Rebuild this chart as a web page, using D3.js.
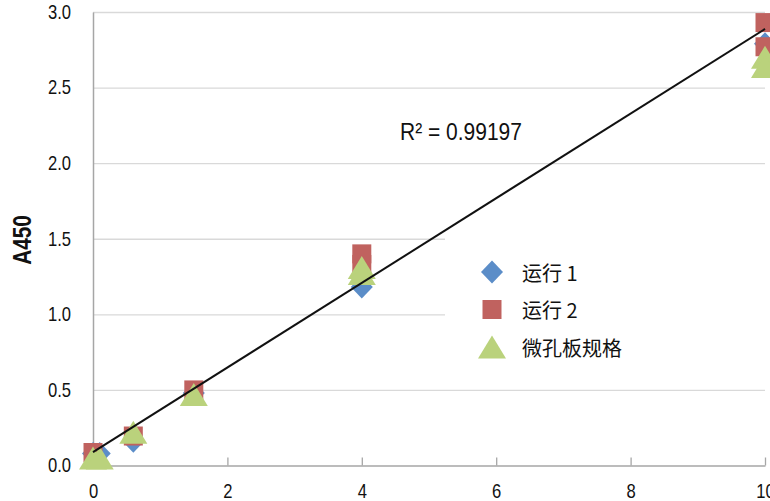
<!DOCTYPE html>
<html>
<head>
<meta charset="utf-8">
<script src="https://cdn.jsdelivr.net/npm/d3@7"></script>
<style>
  html, body { margin: 0; padding: 0; background: #fff; }
  svg { display: block; }
  .lbl { font-family: "Liberation Sans", Arial, sans-serif; fill: #111; }
  .cjk { font-family: "Noto Sans CJK SC", sans-serif; fill: #111; }
</style>
</head>
<body>
<svg id="chart" width="770" height="501"></svg>
<script>
// Absorbance readings (A450) against concentration
const run1 = [[0, 0.08], [0.1, 0.08], [0.6, 0.16], [1.5, 0.48], [4, 1.18], [10, 2.79]];
const run2 = [[0, 0.086], [0.6, 0.195], [1.5, 0.50], [4, 1.40], [4, 1.33], [10, 2.93], [10, 2.77]];
const plateSpec = [[0, 0.05], [0.1, 0.05], [0.6, 0.22], [1.5, 0.47], [4, 1.31], [4, 1.27], [10, 2.70], [10, 2.64]];

const seriesNames = ["运行 1", "运行 2", "微孔板规格"];
const xTicks = [0, 2, 4, 6, 8, 10];
const yTicks = [0, 0.5, 1.0, 1.5, 2.0, 2.5, 3.0];

// Linear trend line and its fit quality
const trendIntercept = 0.088;
const trendSlope = 0.280;
const rSquaredLabel = "R² = 0.99197";

const colors = ["#5b8dc8", "#c0625f", "#bad27c"];

// horizontal squeeze giving a condensed face
const NARROW = 0.83;

const svg = d3.select("#chart");
const x = d3.scaleLinear().domain([0, 10]).range([93, 765]);
const y = d3.scaleLinear().domain([0, 3]).range([465.5, 12]);

// horizontal gridlines
svg.append("g")
  .attr("transform", `translate(${x(0)},0)`)
  .call(d3.axisLeft(y).tickValues(yTicks.slice(1)).tickSize(-(x(10) - x(0))).tickFormat(""))
  .call(g => g.select(".domain").remove())
  .call(g => g.selectAll("line").attr("stroke", "#d9d9d9").attr("stroke-width", 1.3));

// legend background hides gridlines behind it
svg.append("rect").attr("x", 445).attr("y", 235).attr("width", 330).attr("height", 137).attr("fill", "#fff");

// y axis
const yPad = 22;
svg.append("g")
  .attr("transform", `translate(${x(0)},0)`)
  .call(d3.axisLeft(y).tickValues(yTicks).tickSize(0).tickPadding(yPad).tickFormat(d3.format(".1f")))
  .call(g => g.select(".domain").attr("stroke", "#a6a6a6").attr("stroke-width", 1.5))
  .call(g => g.selectAll("text").attr("class", "lbl").attr("font-size", 20).attr("fill", "#111")
    .attr("x", -yPad / NARROW).attr("transform", `scale(${NARROW},1)`));

// x axis with inward ticks
svg.append("g")
  .attr("transform", `translate(0,${y(0)})`)
  .call(d3.axisBottom(x).tickValues(xTicks).tickSizeInner(-8).tickSizeOuter(0).tickPadding(18).tickFormat(d3.format("d")))
  .call(g => g.select(".domain").attr("stroke", "#a6a6a6").attr("stroke-width", 1.5))
  .call(g => g.selectAll("line").attr("stroke", "#a6a6a6").attr("stroke-width", 1.3))
  .call(g => g.selectAll("text").attr("class", "lbl").attr("font-size", 20).attr("fill", "#111")
    .attr("transform", `scale(${NARROW},1)`));

// axis title
svg.append("text")
  .attr("class", "lbl")
  .attr("transform", `translate(22,240) rotate(-90) scale(${NARROW},1)`)
  .attr("text-anchor", "middle")
  .attr("dominant-baseline", "central")
  .attr("font-size", 25)
  .attr("font-weight", "bold")
  .text("A450");

// marker shapes
const shapes = [
  () => "M0,-11.5L11,0L0,11.5L-11,0Z",
  () => "M-9.5,-9.5H9.5V9.5H-9.5Z",
  () => "M0,-11.5L14,11.5H-14Z"
];

[run1, run2, plateSpec].forEach((data, i) => {
  svg.append("g").selectAll("path")
    .data(data)
    .join("path")
    .attr("d", shapes[i])
    .attr("transform", d => `translate(${x(d[0])},${y(d[1])})`)
    .attr("fill", colors[i]);
});

// trend line
svg.append("line")
  .attr("x1", x(0)).attr("y1", y(trendIntercept))
  .attr("x2", x(10)).attr("y2", y(trendIntercept + trendSlope * 10))
  .attr("stroke", "#111").attr("stroke-width", 2);

svg.append("text")
  .attr("class", "lbl")
  .attr("transform", "translate(400,140) scale(0.875,1)")
  .attr("font-size", 24)
  .text(rSquaredLabel);

// legend
const legend = svg.append("g");
seriesNames.forEach((name, i) => {
  const cy = 272 + i * 37.5;
  legend.append("path").attr("d", shapes[i]()).attr("transform", `translate(492,${cy})`).attr("fill", colors[i]);
  legend.append("text").attr("class", "cjk").attr("x", 522).attr("y", cy)
    .attr("dominant-baseline", "central").attr("font-size", 20).text(name);
});
</script>
</body>
</html>
